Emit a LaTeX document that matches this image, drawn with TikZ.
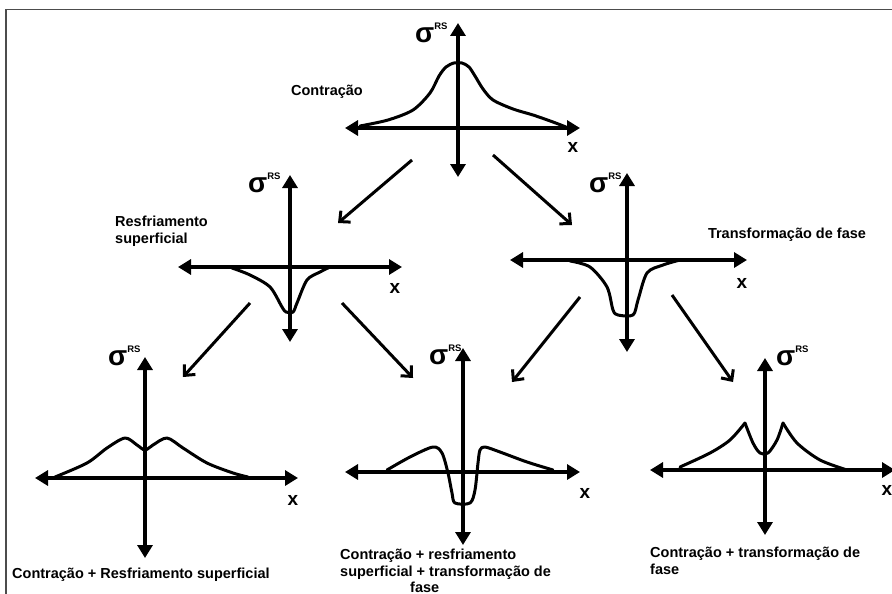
\documentclass[tikz,border=0pt]{standalone}
\usepackage{fontspec}
\setmainfont{Liberation Sans}
\usetikzlibrary{arrows.meta,calc}
\newcommand{\sigrs}{{\fontsize{28}{28}\selectfont σ}\raisebox{13pt}{\fontsize{9.5}{10}\selectfont RS}}

\tikzset{
  axis/.style={line width=3.3pt, {Triangle[length=13pt,width=15pt]}-{Triangle[length=13pt,width=15pt]}},
  curve/.style={line width=3pt, line join=round, line cap=round},
  link/.style={line width=3pt, -{Straight Barb[length=8pt,width=15pt]}},
  lbl/.style={font=\bfseries\fontsize{14.5}{16.5}\selectfont, inner sep=0pt},
  sig/.style={font=\bfseries, inner sep=0pt, anchor=base west},
  xlbl/.style={font=\bfseries\fontsize{19}{19}\selectfont, inner sep=0pt}
}

\begin{document}
\begin{tikzpicture}[x=1pt, y=-1pt]
    \clip (0,0) rectangle (892,594);
    \fill[white] (0,0) rectangle (892,594);
    \draw[black!70, line width=1.3pt] (6,594) -- (6,9.5) -- (892,9.5);

    % contracao
    \begin{scope}[shift={(458,128)}]
      \draw[axis] (-113,0) -- (122,0);
      \draw[axis] (0,49) -- (0,-105);
      \draw[curve] plot[smooth] coordinates {(-98,-2) (-70,-8) (-45,-18) (-28,-35) (-19,-52) (-12,-61) (-4,-65) (4,-65) (11,-61) (17,-52) (25,-39) (35,-28) (55,-19) (75,-13) (95,-6) (108,-1)};
      \node[sig] (s1) at (-43,-85) {\sigrs};
      \node[xlbl] (x1) at (115,19) {x};
      \node[lbl] (t1) at (-131,-36) {Contração};
      \coordinate (a1) at (-46,32);
      \coordinate (a2) at (35,27);
    \end{scope}

    % resfriamento superficial
    \begin{scope}[shift={(290,267)}]
      \draw[axis] (-112,0) -- (112,0);
      \draw[axis] (0,75) -- (0,-92);
      \draw[curve] plot[smooth] coordinates {(-58,1) (-40,8) (-20,20) (-8,40) (-4,45) (3,45) (7,36) (17,13) (30,5) (40,0)};
      \node[sig] (s2) at (-42,-75) {\sigrs};
      \node[xlbl] (x2) at (105,21) {x};
      \node[lbl, anchor=west, align=left] (t2) at (-175,-36) {Resfriamento\\superficial};
      \coordinate (b2) at (48,-44);
      \coordinate (a3) at (-40,36);
      \coordinate (a4) at (52,36);
    \end{scope}

    % transformacao de fase
    \begin{scope}[shift={(627,260)}]
      \draw[axis] (-117,0) -- (120,0);
      \draw[axis] (0,92) -- (0,-87);
      \draw[curve] plot[smooth] coordinates {(-57,1) (-37,7) (-20,27) (-14,50) (-9,55) (6,55) (11,40) (20,13) (36,5) (53,0)};
      \node[sig] (s3) at (-38,-68) {\sigrs};
      \node[xlbl] (x3) at (115,23) {x};
      \node[lbl] (t3) at (160,-25) {Transformação de fase};
      \coordinate (b3) at (-55,-35);
      \coordinate (a5) at (-47,37);
      \coordinate (a6) at (45,35);
    \end{scope}

    % contracao + resfriamento
    \begin{scope}[shift={(145,478)}]
      \draw[axis] (-110,0) -- (153,0);
      \draw[axis] (0,80) -- (0,-121);
      \draw[curve] plot[smooth] coordinates {(-90,-1) (-58,-15) (-38,-30) (-20,-40) (-8,-33) (0,-28) (8,-33) (22,-40) (38,-30) (62,-15) (88,-5) (103,-1)};
      \node[sig] (s4) at (-37,-113) {\sigrs};
      \node[xlbl] (x4) at (148,22) {x};
      \node[lbl, anchor=west] (t4) at (-133,97) {Contração + Resfriamento superficial};
      \coordinate (b4) at (38,-101);
    \end{scope}

    % contracao + resfriamento + transformacao
    \begin{scope}[shift={(463,472)}]
      \draw[axis] (-118,0) -- (117,0);
      \draw[axis] (0,73) -- (0,-124);
      \draw[curve] plot[smooth] coordinates {(-76,-2) (-53,-15) (-30,-25) (-21,-19) (-15,1) (-11,21) (-8,31) (7,31) (12,18) (15,-9) (17,-22) (22,-25) (37,-20) (64,-10) (90,-2)};
      \node[sig] (s5) at (-34,-108) {\sigrs};
      \node[xlbl] (x5) at (122,21) {x};
      \node[lbl, anchor=north west, align=left] (t5) at (-123,77) {Contração + resfriamento\\superficial + transformação de\\\hspace*{70pt}fase};
      \coordinate (b5) at (-50,-94);
      \coordinate (c5) at (49,-90);
    \end{scope}

    % contracao + transformacao
    \begin{scope}[shift={(765,470)}]
      \draw[axis] (-115,0) -- (130,0);
      \draw[axis] (0,65) -- (0,-112);
      \draw[curve] plot[smooth] coordinates {(-85,-3) (-55,-17) (-35,-30) (-20,-47)};
      \draw[curve] plot[smooth] coordinates {(-20,-47) (-12,-27) (-5,-17) (3,-17) (12,-30) (18,-47)};
      \draw[curve] plot[smooth] coordinates {(18,-47) (32,-27) (55,-10) (82,0)};
      \node[sig] (s6) at (11,-105) {\sigrs};
      \node[xlbl] (x6) at (122,20) {x};
      \node[lbl, anchor=north west, align=left] (t6) at (-115,77) {Contração + transformação de\\fase};
      \coordinate (b6) at (-32,-88);
    \end{scope}

    \draw[link] (a1) -- (b2);
    \draw[link] (a2) -- (b3);
    \draw[link] (a3) -- (b4);
    \draw[link] (a4) -- (b5);
    \draw[link] (a5) -- (c5);
    \draw[link] (a6) -- (b6);
\end{tikzpicture}
\end{document}
